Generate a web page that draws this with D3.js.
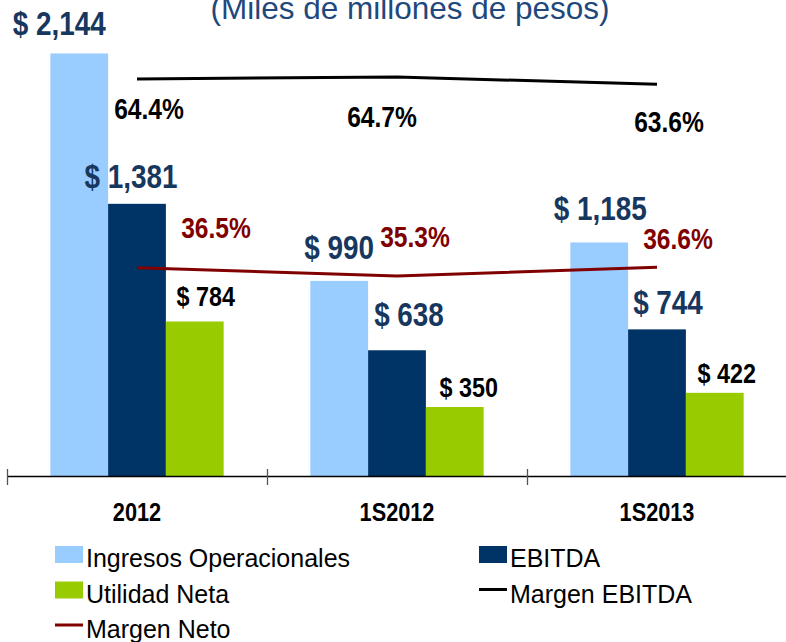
<!DOCTYPE html>
<html>
<head>
<meta charset="utf-8">
<script src="https://cdn.jsdelivr.net/npm/d3@7"></script>
<style>
  body { margin: 0; background: #fff; }
  svg { display: block; }
</style>
</head>
<body>
<script>
// datos (miles de millones de pesos)
const categories = ['2012', '1S2012', '1S2013']
const ingresos = [2144, 990, 1185]
const ebitda = [1381, 638, 744]
const utilidad = [784, 350, 422]
const margenEbitda = [64.4, 64.7, 63.6]
const margenNeto = [36.5, 35.3, 36.6]
const barSeries = ['Ingresos Operacionales', 'EBITDA', 'Utilidad Neta']

const W = 786, H = 642
const sans = "'Liberation Sans', Arial, sans-serif"
const colors = { 'Ingresos Operacionales': '#99ccff', 'EBITDA': '#003366', 'Utilidad Neta': '#99cc00' }
const labelBlue = '#17375e'
const red = '#800000'
// Arial Narrow no esta, se comprime Liberation Sans Bold
const narrowScale = 0.82

let svg = d3.select('body').append('svg')
    .attr('width', W)
    .attr('height', H)

function narrowText(px, py, txt, size, fill) {
    return svg.append('text')
        .attr('transform', 'translate(' + px + ',' + py + ') scale(' + narrowScale + ',1)')
        .attr('text-anchor', 'middle')
        .style('font-family', sans)
        .style('font-weight', 'bold')
        .style('font-size', size + 'px')
        .attr('fill', fill)
        .text(txt)
}

// titulo (cortado arriba como en la imagen)
svg.append('text')
    .attr('x', 410)
    .attr('y', 19)
    .attr('text-anchor', 'middle')
    .style('font-family', sans)
    .style('font-size', '31.5px')
    .attr('fill', '#1f497d')
    .text('(Miles de millones de pesos)')

// escalas
let x = d3.scaleBand().domain(categories).range([7, 787]).padding(0)
let xs = d3.scaleBand().domain(barSeries).range([0, x.bandwidth()]).paddingInner(0).paddingOuter(0.75)
let y = d3.scaleLinear().domain([0, 2400]).range([476, 3])
let y2 = d3.scaleLinear().domain([0, 70]).range([515, 41])

let rows = categories.map((c, i) => ({
    cat: c,
    vals: [ingresos[i], ebitda[i], utilidad[i]]
}))

// barras
rows.forEach(r => {
    r.vals.forEach((v, j) => {
        let s = barSeries[j]
        svg.append('rect')
            .attr('x', x(r.cat) + xs(s))
            .attr('y', y(v))
            .attr('width', xs.bandwidth())
            .attr('height', y(0) - y(v))
            .attr('fill', colors[s])
    })
})

// eje x
let axis = svg.append('g')
    .attr('transform', 'translate(0,' + y(0) + ')')
    .call(d3.axisBottom(x).tickSize(0).tickSizeOuter(0))
axis.select('.domain').attr('stroke', '#000').attr('stroke-width', 1.3).attr('d', 'M7,0.5H786')
axis.selectAll('.tick text')
    .attr('y', 0)
    .attr('dy', 0)
    .attr('transform', 'translate(0,45) scale(' + narrowScale + ',1)')
    .style('font-family', sans)
    .style('font-size', '26.5px')
    .style('font-weight', 'bold')
    .attr('fill', '#000')
categories.forEach(c => {
    svg.append('line')
        .attr('x1', x(c) + 0.5).attr('x2', x(c) + 0.5)
        .attr('y1', y(0) - 7).attr('y2', y(0) + 9)
        .attr('stroke', '#555')
        .attr('stroke-width', 1.3)
})

// lineas de margen
let line = d3.line()
    .x(d => x(d.cat) + x.bandwidth() / 2)
    .y(d => y2(d.v))
svg.append('path')
    .datum(categories.map((c, i) => ({ cat: c, v: margenEbitda[i] })))
    .attr('d', line)
    .attr('fill', 'none')
    .attr('stroke', '#000')
    .attr('stroke-width', 3)
svg.append('path')
    .datum(categories.map((c, i) => ({ cat: c, v: margenNeto[i] })))
    .attr('d', line)
    .attr('fill', 'none')
    .attr('stroke', red)
    .attr('stroke-width', 3)

// etiquetas de barras (desplazamientos como en el original)
const barLabelOff = [
    [[-20, -18], [0, -22], [1, -22]],
    [[-6, -16], [12, -24], [11, -15]],
    [[11, -15], [14, -10], [12, -10]]
]
const fmt = d3.format(',')
rows.forEach((r, i) => {
    r.vals.forEach((v, j) => {
        let s = barSeries[j]
        let off = barLabelOff[j][i]
        narrowText(x(r.cat) + xs(s) + xs.bandwidth() / 2 + off[0], y(v) + off[1],
            '$ ' + fmt(v), j == 2 ? 28.5 : 34, j == 2 ? '#000' : labelBlue)
    })
})

// etiquetas de margen
const ebitdaLabelOff = [[12, 40], [-15, 50], [12, 48]]
const netoLabelOff = [[79, -30], [18, -29], [21, -18]]
categories.forEach((c, i) => {
    let cx = x(c) + x.bandwidth() / 2
    narrowText(cx + ebitdaLabelOff[i][0], y2(margenEbitda[i]) + ebitdaLabelOff[i][1],
        margenEbitda[i].toFixed(1) + '%', 30, '#000')
    narrowText(cx + netoLabelOff[i][0], y2(margenNeto[i]) + netoLabelOff[i][1],
        margenNeto[i].toFixed(1) + '%', 30, red)
})

// leyenda
const legendItems = [
    { name: 'Ingresos Operacionales', type: 'rect', color: colors['Ingresos Operacionales'], col: 0, row: 0 },
    { name: 'EBITDA', type: 'rect', color: colors['EBITDA'], col: 1, row: 0 },
    { name: 'Utilidad Neta', type: 'rect', color: colors['Utilidad Neta'], col: 0, row: 1 },
    { name: 'Margen EBITDA', type: 'line', color: '#000', col: 1, row: 1 },
    { name: 'Margen Neto', type: 'line', color: red, col: 0, row: 2 }
]
legendItems.forEach(it => {
    let lx = it.col == 0 ? 55 : 479
    let ly = 567 + it.row * 35.5
    if (it.type == 'rect') {
        svg.append('rect')
            .attr('x', lx).attr('y', ly - 21)
            .attr('width', 28).attr('height', 17)
            .attr('fill', it.color)
    } else {
        svg.append('line')
            .attr('x1', lx).attr('x2', lx + 28)
            .attr('y1', ly - 13).attr('y2', ly - 13)
            .attr('stroke', it.color)
            .attr('stroke-width', 3)
    }
    svg.append('text')
        .attr('x', lx + 31)
        .attr('y', ly)
        .style('font-family', sans)
        .style('font-size', '25px')
        .attr('fill', '#000')
        .text(it.name)
})
</script>
</body>
</html>
